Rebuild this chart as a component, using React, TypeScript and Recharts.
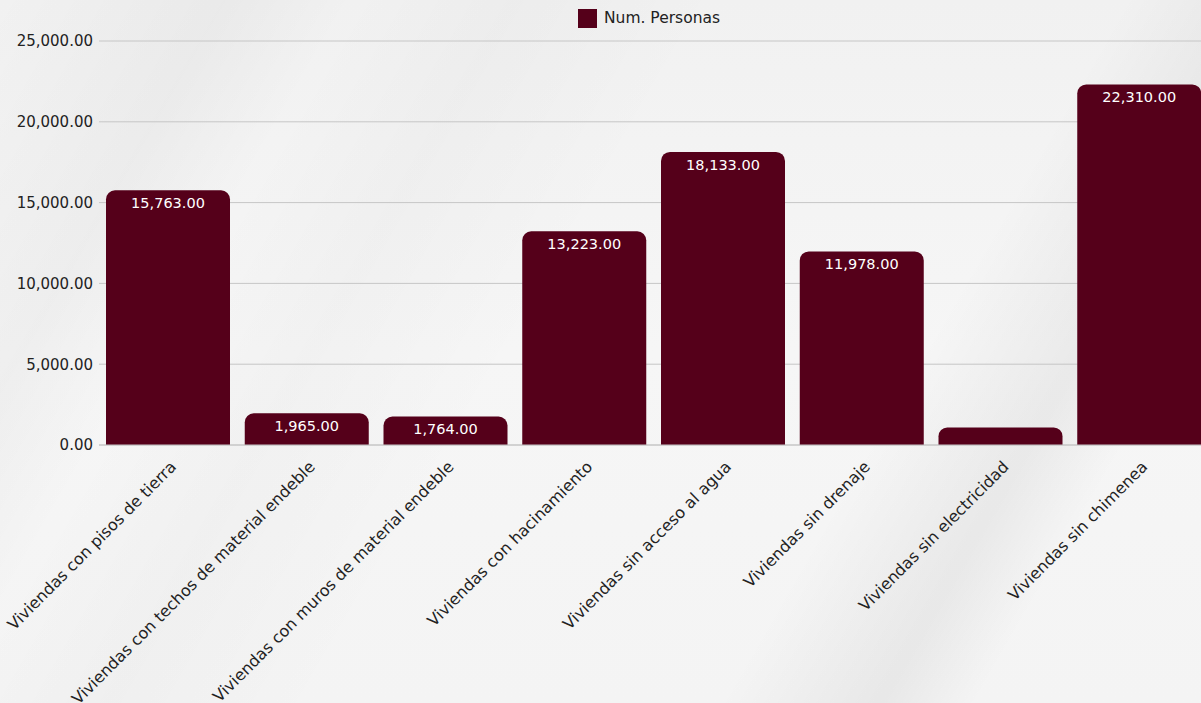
import { Bar, BarChart, CartesianGrid, LabelList, Legend, XAxis, YAxis } from "recharts";

const categories = [
  "Viviendas con pisos de tierra",
  "Viviendas con techos de material endeble",
  "Viviendas con muros de material endeble",
  "Viviendas con hacinamiento",
  "Viviendas sin acceso al agua",
  "Viviendas sin drenaje",
  "Viviendas sin electricidad",
  "Viviendas sin chimenea",
];
const personas = [15763, 1965, 1764, 13223, 18133, 11978, 1080, 22310];
const yTicks = [0, 5000, 10000, 15000, 20000, 25000];

const DATA = categories.map((name, i) => ({ name, personas: personas[i] }));

const MAROON = "#55001a";
const FONT = "'DejaVu Sans', sans-serif";

const fmt = (v: number) =>
  v.toLocaleString("en-US", { minimumFractionDigits: 2, maximumFractionDigits: 2 });

function AngledTick(props: any) {
  const { x, y, payload } = props;
  return (
    <g transform={`translate(${x + 6},${y + 12})`}>
      <text
        transform="rotate(-45)"
        textAnchor="end"
        fill="#222"
        fontSize={16}
        fontFamily={FONT}
        dy={4}
      >
        {payload.value}
      </text>
    </g>
  );
}

// value label sits inside the bar top; skipped when the bar is too short
function ValueLabel(props: any) {
  const { x, y, width, height, value } = props;
  if (height < 26) return null;
  return (
    <text
      x={x + width / 2}
      y={y + 18}
      textAnchor="middle"
      fill="#fff"
      fontSize={14.5}
      fontFamily={FONT}
    >
      {fmt(value)}
    </text>
  );
}

function LegendBox() {
  return (
    <div
      style={{
        display: "flex",
        alignItems: "center",
        gap: 7,
        height: 36,
        fontFamily: FONT,
        fontSize: 15.5,
        color: "#222",
        paddingLeft: 578,
      }}
    >
      <span style={{ width: 19, height: 19, background: MAROON, display: "inline-block" }} />
      <span>Num. Personas</span>
    </div>
  );
}

export default function App() {
  return (
    <div
      style={{
        position: "fixed",
        top: 0,
        left: 0,
        width: 1201,
        height: 703,
        overflow: "hidden",
        background:
          "linear-gradient(120deg, rgba(0,0,0,0) 0%, rgba(0,0,0,0.03) 14%, rgba(255,255,255,0) 22%, rgba(0,0,0,0.02) 32%, rgba(255,255,255,0) 45%, rgba(0,0,0,0) 70%, rgba(0,0,0,0.05) 80%, rgba(255,255,255,0) 86%), linear-gradient(180deg, #f1f1f1 0%, #f6f6f6 50%, #f4f4f4 100%)",
      }}
    >
      <BarChart
        width={1209}
        height={703}
        data={DATA}
        margin={{ top: 11, right: 0, left: 0, bottom: 8 }}
        barSize={124}
      >
        <Legend
          verticalAlign="top"
          height={30}
          wrapperStyle={{ top: 0, left: 0, width: 1209 }}
          content={<LegendBox />}
        />
        <CartesianGrid stroke="#c6c6c6" vertical={false} />
        <YAxis
          domain={[0, 25000]}
          ticks={yTicks}
          width={99}
          axisLine={false}
          tickLine={false}
          tickMargin={0}
          tick={{ fill: "#222", fontSize: 15, fontFamily: FONT }}
          tickFormatter={(v) => fmt(v as number)}
        />
        <XAxis
          dataKey="name"
          interval={0}
          height={250}
          axisLine={{ stroke: "#c6c6c6" }}
          tickLine={false}
          tick={<AngledTick />}
        />
        <Bar dataKey="personas" fill={MAROON} radius={[9, 9, 0, 0]} isAnimationActive={false}>
          <LabelList dataKey="personas" content={<ValueLabel />} />
        </Bar>
      </BarChart>
    </div>
  );
}
